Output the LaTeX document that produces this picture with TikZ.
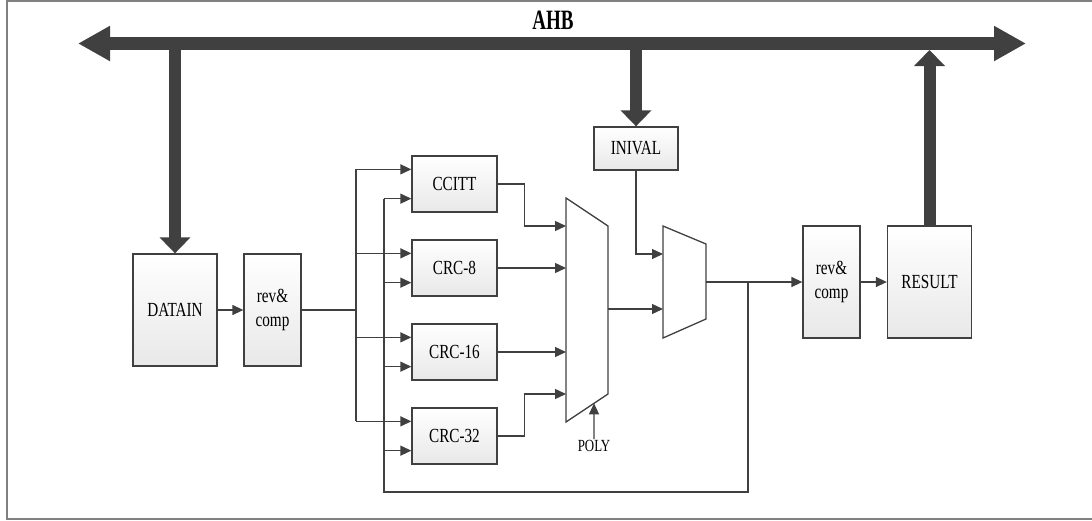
\documentclass[tikz,border=0pt]{standalone}
\usepackage{fontspec}
\setmainfont{Liberation Serif}[FakeStretch=0.76]
\newfontfamily\busfont{Liberation Serif}[FakeStretch=0.68]
\usetikzlibrary{arrows.meta,calc}
\definecolor{ink}{HTML}{404040}

\begin{document}
\begin{tikzpicture}[x=1pt,y=-1pt,
  box/.style={draw=ink,line width=1.3pt,top color=white,bottom color=gray!18,
    inner sep=0pt,align=center,font=\fontsize{20}{24}\selectfont},
  sig/.style={draw=ink,line width=1.3pt},
  arr/.style={-{Triangle[length=11pt,width=10pt]}},
  tap/.style={draw=ink,line width=12pt,-{Triangle[length=16pt,width=30pt]}}]
  \useasboundingbox (0,0) rectangle (1092,520);
  \draw[gray,line width=1.5pt] (7,1) rectangle (1096,519);

  % bus
  \node[font=\busfont\fontsize{28}{30}\selectfont\bfseries] (ahb) at (553,20) {AHB};
  \coordinate (busL) at (78,43.5);
  \coordinate (busR) at (1026,43.5);
  \draw[ink,line width=13pt,{Triangle[length=32pt,width=33pt]}-{Triangle[length=32pt,width=33pt]}]
    (busL) -- (busR);

  % blocks
  \node[box,minimum width=84pt,minimum height=112pt] (datain) at (175,310) {DATAIN};
  \node[box,minimum width=57pt,minimum height=112pt] (rev1) at (272.5,310) {rev\&\\comp};
  \foreach \b/\t/\y in {ccitt/CCITT/184,crc8/CRC-8/268,crc16/CRC-16/352,crc32/CRC-32/436}{
    \node[box,minimum width=85pt,minimum height=56pt] (\b) at (454.5,\y) {\t};
    \coordinate (\b-a) at ([yshift=-14pt]\b.north west);
    \coordinate (\b-b) at ([yshift=14pt]\b.south west);
  }
  \node[box,minimum width=84pt,minimum height=43pt] (inival) at (636,148.5) {INIVAL};
  \node[box,minimum width=57pt,minimum height=112pt] (rev2) at (831.5,282) {rev\&\\comp};
  \node[box,minimum width=84pt,minimum height=112pt] (result) at (929.5,282) {RESULT};

  % multiplexers
  \coordinate (m1nw) at (566,198); \coordinate (m1ne) at (608,226);
  \coordinate (m1se) at (608,394); \coordinate (m1sw) at (566,422);
  \draw[sig] (m1nw) -- (m1ne) -- (m1se) -- (m1sw) -- cycle;
  \foreach \n/\y in {a/226,b/268,c/352,d/394}{\coordinate (m1\n) at (566,\y);}
  \coordinate (m1o) at (608,309);
  \coordinate (m2nw) at (663,226); \coordinate (m2ne) at (706,244);
  \coordinate (m2se) at (706,319); \coordinate (m2sw) at (663,338);
  \draw[sig] (m2nw) -- (m2ne) -- (m2se) -- (m2sw) -- cycle;
  \coordinate (m2a) at (663,254);
  \coordinate (m2b) at (663,309);
  \coordinate (m2o) at (706,282);
  \node[font=\fontsize{17}{19}\selectfont,inner sep=1pt] (poly) at (594,446) {POLY};

  % bus taps
  \draw[tap] (datain.north |- busL) -- (datain.north);
  \draw[tap] (inival.north |- busL) -- (inival.north);
  \coordinate (tapR) at (929.5,50);
  \draw[tap] (result.north) -- (tapR);

  % data path
  \coordinate (fanA) at (356,310);
  \coordinate (fanB) at (384,492);
  \coordinate (split) at (748,282);
  \draw[sig,arr] (datain.east) -- (rev1.west);
  \draw[sig] (rev1.east) -- (fanA);
  \draw[sig] (fanA |- ccitt-a) -- (fanA |- crc32-a);
  \draw[sig] (split) |- (fanB) -- (fanB |- ccitt-b);
  \foreach \b in {ccitt,crc8,crc16,crc32}{
    \draw[sig,arr] (fanA |- \b-a) -- (\b-a);
    \draw[sig,arr] (fanB |- \b-b) -- (\b-b);
  }
  \draw[sig,arr] (ccitt.east) -- ++(27,0) |- (m1a);
  \draw[sig,arr] (crc8.east) -- (m1b);
  \draw[sig,arr] (crc16.east) -- (m1c);
  \draw[sig,arr] (crc32.east) -- ++(27,0) |- (m1d);
  \draw[sig,arr] (poly.north) -- ($(m1sw)!0.667!(m1se)$);
  \draw[sig,arr] (m1o) -- (m2b);
  \draw[sig,arr] (inival.south) |- (m2a);
  \draw[sig,arr] (m2o) -- (rev2.west);
  \draw[sig,arr] (rev2.east) -- (result.west);
\end{tikzpicture}
\end{document}
